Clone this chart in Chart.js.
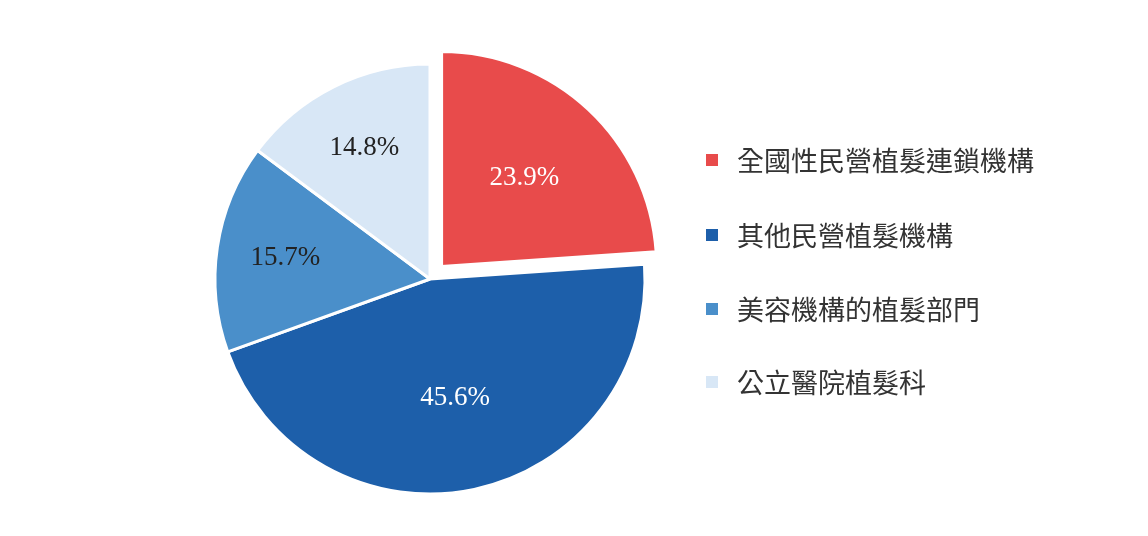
<!DOCTYPE html>
<html>
<head>
<meta charset="utf-8">
<script src="https://cdn.jsdelivr.net/npm/chart.js@4.4.1/dist/chart.umd.min.js"></script>
<style>
    html, body { margin: 0; padding: 0; background: #fff; }
    #wrap { position: relative; width: 1148px; height: 536px; }
    #pieChart { position: absolute; left: 0; top: 0; }
    .legend-row {
        position: absolute; left: 706px; height: 30px; line-height: 30px;
        font-family: "Noto Sans CJK TC", "Noto Sans CJK SC", sans-serif;
        font-size: 27px; color: #333; white-space: nowrap;
    }
    .legend-row .box {
        position: absolute; left: 0; top: 9px; width: 12px; height: 12px;
    }
    .legend-row .txt { position: absolute; left: 31px; top: 0; }
</style>
</head>
<body>
<div id="wrap">
    <canvas id="pieChart" width="1148" height="536"></canvas>
</div>
<script>
const categories = ['全國性民營植髮連鎖機構', '其他民營植髮機構', '美容機構的植髮部門', '公立醫院植髮科'];
const shares = [23.9, 45.6, 15.7, 14.8];
const sliceColors = ['#E84B4B', '#1D5FAA', '#4A8FCA', '#D8E7F6'];
const labelColors = ['#ffffff', '#ffffff', '#222222', '#222222'];
const sliceOffsets = [68, 0, 0, 0];

document.addEventListener('DOMContentLoaded', () => {
    const ctx = document.getElementById('pieChart').getContext('2d');

    // percentage labels inside slices (arc draws its offset at offset/4)
    const sliceLabels = {
        id: 'sliceLabels',
        afterDatasetsDraw(chart) {
            const meta = chart.getDatasetMeta(0);
            const c = chart.ctx;
            c.save();
            c.font = '27px "Liberation Serif", "Times New Roman", serif';
            c.textAlign = 'center';
            c.textBaseline = 'middle';
            meta.data.forEach((arc, i) => {
                const p = arc.getProps(['x', 'y', 'startAngle', 'endAngle', 'outerRadius'], true);
                const mid = (p.startAngle + p.endAngle) / 2;
                const r = p.outerRadius * (shares[i] > 20 ? 0.565 : 0.68) + sliceOffsets[i] / 4;
                c.fillStyle = labelColors[i];
                c.fillText(shares[i].toFixed(1) + '%', p.x + Math.cos(mid) * r, p.y + Math.sin(mid) * r);
            });
            c.restore();
        }
    };

    new Chart(ctx, {
        type: 'pie',
        data: {
            labels: categories,
            datasets: [{
                data: shares,
                backgroundColor: sliceColors,
                borderColor: '#ffffff',
                borderWidth: 3,
                offset: sliceOffsets,
                radius: 215
            }]
        },
        options: {
            responsive: false,
            animation: false,
            layout: { padding: { left: 0, right: 288, top: 22, bottom: 0 } },
            plugins: {
                legend: { display: false },
                tooltip: { enabled: false }
            }
        },
        plugins: [sliceLabels]
    });

    // legend built from the same arrays
    const wrap = document.getElementById('wrap');
    const rowTops = [145, 220, 294, 367];
    categories.forEach((name, i) => {
        const row = document.createElement('div');
        row.className = 'legend-row';
        row.style.top = rowTops[i] + 'px';
        row.innerHTML = '<span class="box" style="background:' + sliceColors[i] + '"></span><span class="txt">' + name + '</span>';
        wrap.appendChild(row);
    });
});
</script>
</body>
</html>
